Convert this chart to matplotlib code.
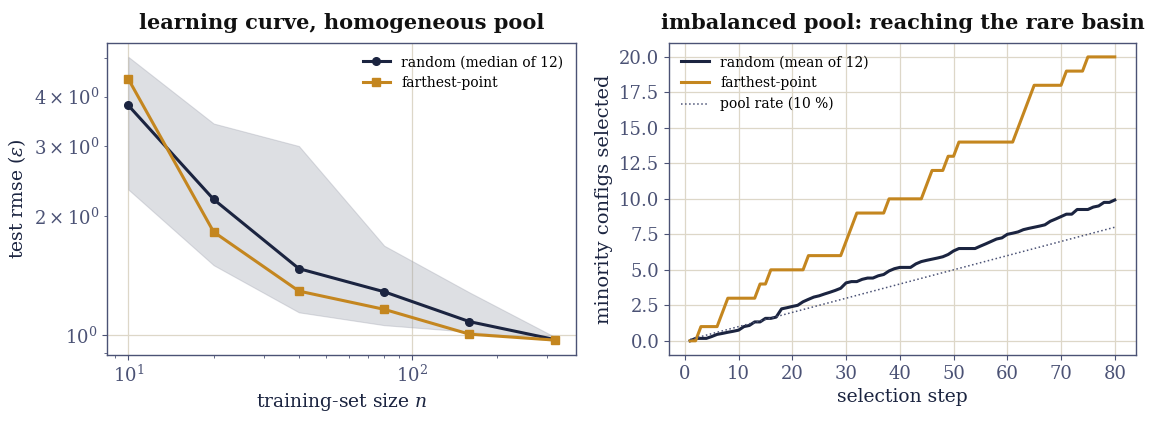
import numpy as np
import matplotlib
matplotlib.use("Agg")
import matplotlib.pyplot as plt
from matplotlib.ticker import MultipleLocator, FormatStrFormatter

# ---- data: learning curve (left) ----
n_train = [10, 20, 40, 80, 160, 320]
rmse_random = [3.80, 2.20, 1.47, 1.285, 1.08, 0.973]
rmse_farthest = [4.43, 1.82, 1.29, 1.16, 1.004, 0.970]
band_hi = [5.04, 3.42, 3.00, 1.68, 1.28, 0.988]
band_lo = [2.33, 1.50, 1.14, 1.058, 1.018, 0.966]

# ---- data: imbalanced pool (right) ----
steps = list(range(1, 81))
minority_farthest = [0, 0, 1, 1, 1, 1, 2, 3, 3, 3,
                     3, 3, 3, 4, 4, 5, 5, 5, 5, 5,
                     5, 5, 6, 6, 6, 6, 6, 6, 6, 7,
                     8, 9, 9, 9, 9, 9, 9, 10, 10, 10,
                     10, 10, 10, 10, 11, 12, 12, 12, 13, 13,
                     14, 14, 14, 14, 14, 14, 14, 14, 14, 14,
                     14, 15, 16, 17, 18, 18, 18, 18, 18, 18,
                     19, 19, 19, 19, 20, 20, 20, 20, 20, 20]
minority_random = [0.00, 0.17, 0.17, 0.17, 0.30, 0.45, 0.52, 0.60, 0.67, 0.75,
                   1.00, 1.08, 1.33, 1.33, 1.58, 1.58, 1.67, 2.25, 2.33, 2.42,
                   2.50, 2.75, 2.92, 3.08, 3.17, 3.30, 3.42, 3.55, 3.70, 4.08,
                   4.17, 4.17, 4.33, 4.42, 4.42, 4.58, 4.67, 4.92, 5.08, 5.17,
                   5.17, 5.17, 5.42, 5.58, 5.67, 5.75, 5.83, 5.92, 6.08, 6.33,
                   6.50, 6.50, 6.50, 6.50, 6.67, 6.83, 7.00, 7.17, 7.25, 7.50,
                   7.58, 7.67, 7.83, 7.92, 8.00, 8.08, 8.17, 8.42, 8.58, 8.75,
                   8.92, 8.92, 9.25, 9.25, 9.25, 9.42, 9.50, 9.75, 9.75, 9.92]
pool_rate = 0.10

navy = "#1b2440"
gold = "#c4861f"
gridc = "#ddd7c8"
spinec = "#4b5275"
tickc = "#4b5275"

plt.rcParams['font.family'] = ['DejaVu Serif']
plt.rcParams['mathtext.fontset'] = 'dejavuserif'

fig = plt.figure(figsize=(11.56, 4.22), dpi=100)
ax1 = fig.add_axes([0.0926, 0.1588, 0.4057, 0.740])
ax2 = fig.add_axes([0.5787, 0.1588, 0.4040, 0.740])

for ax in (ax1, ax2):
    for s in ax.spines.values():
        s.set_color(spinec)
        s.set_linewidth(1.0)
    ax.tick_params(colors=tickc, labelsize=13, which='both')
    ax.grid(True, color=gridc, linewidth=0.9)
    ax.set_axisbelow(True)

# left panel
ax1.fill_between(n_train, band_lo, band_hi, color="#9a9eab", alpha=0.33,
                 edgecolor="#9a9eab", linewidth=0.8)
ax1.plot(n_train, rmse_random, marker='o', color=navy, lw=2.2, ms=5.5,
         label="random (median of 12)")
ax1.plot(n_train, rmse_farthest, marker='s', color=gold, lw=2.2, ms=5.5,
         label="farthest-point")
ax1.set_xscale('log')
ax1.set_yscale('log')
ax1.set_xlabel("training-set size $n$", fontsize=13.5, color=navy)
ax1.set_ylabel(r"test rmse ($\varepsilon$)", fontsize=13.5, color=navy)
ax1.set_title("learning curve, homogeneous pool", fontsize=15,
              fontweight='bold', color="#111111", pad=10)
ax1.legend(loc='upper right', frameon=False, fontsize=10)

# right panel
ax2.plot(steps, minority_random, color=navy, lw=2.2, label="random (mean of 12)")
ax2.plot(steps, minority_farthest, color=gold, lw=2.2, label="farthest-point")
ax2.plot(steps, [pool_rate * s for s in steps], color="#4b5275", lw=1.1,
         ls=':', label="pool rate (10 %)")
ax2.xaxis.set_major_locator(MultipleLocator(10))
ax2.yaxis.set_major_locator(MultipleLocator(2.5))
ax2.yaxis.set_major_formatter(FormatStrFormatter('%.1f'))
ax2.set_xlabel("selection step", fontsize=13.5, color=navy)
ax2.set_ylabel("minority configs selected", fontsize=14, color=navy)
ax2.set_title("imbalanced pool: reaching the rare basin", fontsize=15,
              fontweight='bold', color="#111111", pad=10)
ax2.legend(loc='upper left', frameon=False, fontsize=10)

fig.savefig("out.png", dpi=100)
